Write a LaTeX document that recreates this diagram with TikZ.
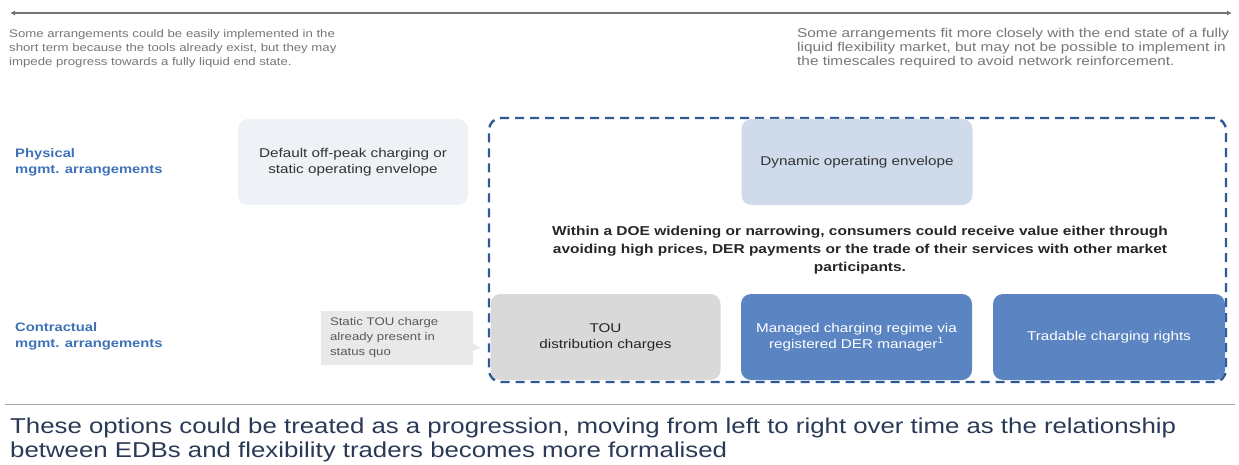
\documentclass[tikz,border=0pt]{standalone}
\usepackage{fontspec}
\setmainfont{Liberation Sans}[FakeStretch=1.2]
\usepackage{tikz}
\usetikzlibrary{positioning, arrows.meta, shapes.callouts}
\definecolor{notegray}{HTML}{767676}
\definecolor{lblblue}{HTML}{3D72B8}
\definecolor{envblue}{HTML}{2F5A94}
\definecolor{paleblue}{HTML}{EEF1F6}
\definecolor{softblue}{HTML}{CFDAEB}
\definecolor{midblue}{HTML}{5B84C2}
\definecolor{tougray}{HTML}{D9D9D9}
\definecolor{callgray}{HTML}{E9E9E9}
\definecolor{navytext}{HTML}{2A3A56}
\tikzset{
	timeline/.style={
		draw=black!55, line width=1.8pt,
		{Latex[length=5pt,width=5pt]}-{Latex[length=5pt,width=5pt]}
	},
	note/.style={
		align=left, inner sep=0pt, text=notegray,
		font={\fontsize{11}{14}\selectfont}
	},
	rowlbl/.style={
		align=left, inner sep=0pt, text=lblblue,
		font={\fontsize{12.3}{16}\selectfont\bfseries}
	},
	option/.style={
		rounded corners=10pt, align=center,
		minimum height=86pt, minimum width=230pt,
		font={\fontsize{12.7}{16}\selectfont}
	},
	paleopt/.style={option, fill=paleblue, text=black!80},
	softopt/.style={option, fill=softblue, text=black!80},
	grayopt/.style={option, fill=tougray, text=black!85},
	blueopt/.style={option, fill=midblue, text=white},
	envelope/.style={
		draw=envblue, line width=2.4pt, dash pattern=on 9pt off 6pt,
		rounded corners=12pt
	},
	calloutbox/.style={
		rectangle callout, fill=callgray, align=left, text=black!65,
		minimum width=152pt, minimum height=54pt, text width=134pt,
		font={\fontsize{11}{15}\selectfont}
	}
}

\begin{document}
\begin{tikzpicture}[x=1pt, y=-1pt]
\useasboundingbox (0,0) rectangle (1239,465);

% time axis and its two notes
\coordinate (tl) at (10,13);
\coordinate (tr) at (1232,13);
\draw[timeline] (tl) -- (tr);

\node(noteleft)[note, anchor=north west] at (9,29)
	{Some arrangements could be easily implemented in the\\
	short term because the tools already exist, but they may\\
	impede progress towards a fully liquid end state.};
\node(noteright)[note, anchor=north west, font={\fontsize{12.8}{14}\selectfont}] at (797,28)
	{Some arrangements fit more closely with the end state of a fully\\
	liquid flexibility market, but may not be possible to implement in\\
	the timescales required to avoid network reinforcement.};

% row labels
\node(physlbl)[rowlbl, anchor=west] at (15,162) {Physical\\mgmt. arrangements};
\node(ctrlbl)[rowlbl, anchor=west] at (15,336) {Contractual\\mgmt. arrangements};

% options
\node(default)[paleopt] at (353,162) {Default off-peak charging or\\static operating envelope};
\node(env)[envelope, minimum width=737pt, minimum height=264pt] at (857.5,250) {};
\node(dynamic)[softopt, minimum width=231pt] at (857,162) {Dynamic operating envelope};

\node(doetext)[align=center, text=black!85, font={\fontsize{12.9}{18}\selectfont\bfseries}] at (860,250)
	{Within a DOE widening or narrowing, consumers could receive value either through\\
	avoiding high prices, DER payments or the trade of their services with other market\\
	participants.};

\node(tou)[grayopt] at (605.5,337) {TOU\\distribution charges};
\node(managed)[blueopt, minimum width=231pt] at (856.5,337) {Managed charging regime via\\registered DER manager\textsuperscript{1}};
\node(tradable)[blueopt, minimum width=232pt] at (1109,337) {Tradable charging rights};

\coordinate (tiptou) at (481,348);
\node(statictou)[calloutbox, callout absolute pointer={(tiptou)}] at (397,338)
	{Static TOU charge\\already present in\\status quo};

% conclusion
\coordinate (sl) at (5,404);
\coordinate (sr) at (1235,404);
\draw[gray!70, line width=1pt] (sl) -- (sr);
\node(concl)[anchor=north west, align=left, inner sep=0pt, text=navytext,
	font={\fontsize{21.5}{24}\selectfont}] at (10,418)
	{These options could be treated as a progression, moving from left to right over time as the relationship\\
	between EDBs and flexibility traders becomes more formalised};

\end{tikzpicture}
\end{document}
